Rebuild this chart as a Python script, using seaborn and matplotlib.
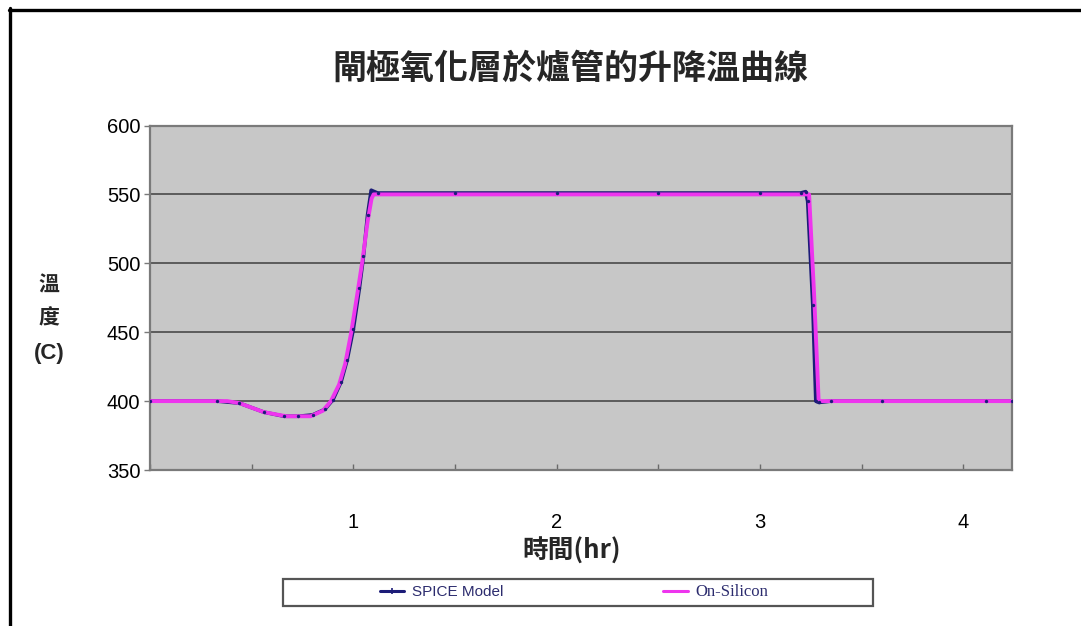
import numpy as np
import pandas as pd
import seaborn as sns
import matplotlib
matplotlib.use("Agg")
import matplotlib.pyplot as plt
from matplotlib.lines import Line2D
from matplotlib.patches import Rectangle
from matplotlib.ticker import MultipleLocator

# Furnace temperature profile (time in hours, temperature in C)
spice_time = [0.00, 0.33, 0.44, 0.56, 0.66, 0.73, 0.80, 0.86, 0.90, 0.94, 0.97,
              1.00, 1.03, 1.05, 1.07, 1.088, 1.12, 1.50, 2.00, 2.50, 3.00,
              3.20, 3.225, 3.235, 3.26, 3.275, 3.29, 3.35, 3.60, 4.11, 4.24]
spice_temp = [400, 400, 398.5, 392, 389, 389, 390, 394, 401, 414, 430,
              452, 482, 505, 535, 553, 551, 551, 551, 551, 551,
              551, 552, 545, 470, 400, 399, 400, 400, 400, 400]

silicon_time = [0.00, 0.38, 0.44, 0.56, 0.67, 0.79, 0.85, 0.89, 0.93, 0.96,
                0.99, 1.02, 1.045, 1.07, 1.09, 1.10, 1.50, 2.00, 2.50, 3.00,
                3.242, 3.267, 3.289, 3.35, 3.60, 4.24]
silicon_temp = [400, 400, 398.5, 392, 389, 389, 393, 400, 412, 427,
                450, 478, 502, 530, 547, 550, 550, 550, 550, 550,
                550, 476, 400, 400, 400, 400]

series_names = ["SPICE Model", "On-Silicon"]
series_colors = ["#1c1c78", "#ee35ee"]

x_ticks = [1, 2, 3, 4]
y_ticks = [350, 400, 450, 500, 550, 600]

title_text = "閘極氧化層於爐管的升降溫曲線"
x_label = "時間(hr)"
y_label_lines = ["溫", "度", "(C)"]

df = pd.concat([
    pd.DataFrame({"time": spice_time, "temp": spice_temp, "series": series_names[0]}),
    pd.DataFrame({"time": silicon_time, "temp": silicon_temp, "series": series_names[1]}),
], ignore_index=True)

sns.set_theme(style="white")
plt.rcParams["font.family"] = ["Liberation Sans", "Noto Sans CJK TC", "DejaVu Sans"]

fig = plt.figure(figsize=(10.81, 6.26), dpi=100)
fig.patch.set_facecolor("white")
ax = fig.add_axes([150 / 1081, 1 - 470 / 626, 862 / 1081, 344.5 / 626])
ax.set_facecolor("#c7c7c7")

palette = dict(zip(series_names, series_colors))
spice_df = df[df.series == series_names[0]]
silicon_df = df[df.series == series_names[1]]
sns.lineplot(data=spice_df, x="time", y="temp", color=palette[series_names[0]],
             linewidth=2.6, ax=ax, legend=False, zorder=3, sort=False)
sns.lineplot(data=silicon_df, x="time", y="temp", color=palette[series_names[1]],
             linewidth=2.8, ax=ax, legend=False, zorder=4, sort=False)
sns.scatterplot(data=spice_df, x="time", y="temp", color=palette[series_names[0]],
                s=6, linewidth=0, ax=ax, legend=False, zorder=5)

ax.set_xlim(0, 4.24)
ax.set_ylim(350, 600)
ax.set_yticks(y_ticks)
ax.set_xticks(x_ticks)
ax.xaxis.set_minor_locator(MultipleLocator(0.5))
ax.yaxis.grid(True, color="#4a4a4a", linewidth=1.2)
ax.set_axisbelow(True)
for side, sp in ax.spines.items():
    sp.set_color("#7a7a7a")
    sp.set_linewidth(1.6)

ax.tick_params(axis="y", which="major", direction="out", length=4, width=1,
               color="#7a7a7a", pad=3, labelsize=14.5, labelcolor="black", left=True)
ax.tick_params(axis="x", which="both", direction="in", length=4, width=1,
               color="#6a6a6a", pad=31, labelsize=14.5, labelcolor="black", bottom=True)

ax.set_xlabel("")
ax.set_ylabel("")

cjk = ["Noto Sans CJK TC", "DejaVu Sans"]
fig.text(570 / 1081, 1 - 68 / 626, title_text, ha="center", va="center",
         fontsize=24.5, fontweight="bold", family=cjk)
fig.text(572 / 1081, 1 - 551 / 626, x_label, ha="center", va="center",
         fontsize=18.5, fontweight="bold", family=cjk)
for text, ypix, size, fam in zip(y_label_lines, [285, 318, 354], [15, 15, 16],
                                 [cjk, cjk, ["Liberation Sans"]]):
    fig.text(49 / 1081, 1 - ypix / 626, text, ha="center", va="center",
             fontsize=size, fontweight="bold", family=fam)

# Figure frame lines along top and left edges
fig.add_artist(Line2D([9 / 1081, 1.0], [1 - 9.5 / 626, 1 - 9.5 / 626],
                      transform=fig.transFigure, color="black", linewidth=2.4))
fig.add_artist(Line2D([10 / 1081, 10 / 1081], [0.0, 1 - 8 / 626],
                      transform=fig.transFigure, color="black", linewidth=2.4))

# Legend box
fig.add_artist(Rectangle((283 / 1081, 1 - 606 / 626), 590 / 1081, 27 / 626,
                         transform=fig.transFigure, facecolor="white",
                         edgecolor="#555555", linewidth=1.6))
handles = [
    Line2D([], [], color=series_colors[0], linewidth=2.2, marker="|",
           markersize=4, markeredgewidth=1.2),
    Line2D([], [], color=series_colors[1], linewidth=2.2),
]
leg = fig.legend(handles, series_names, loc="center",
                 bbox_to_anchor=(574 / 1081, 1 - 592 / 626), ncol=2,
                 frameon=False, fontsize=11, handlelength=1.6,
                 handletextpad=0.5, columnspacing=10.5)
for t, fam in zip(leg.get_texts(), [["Liberation Sans"], ["Liberation Serif"]]):
    t.set_color("#2c2c6e")
    t.set_family(fam)
leg.get_texts()[1].set_fontsize(12)

fig.savefig("out.png", dpi=100, facecolor="white")
